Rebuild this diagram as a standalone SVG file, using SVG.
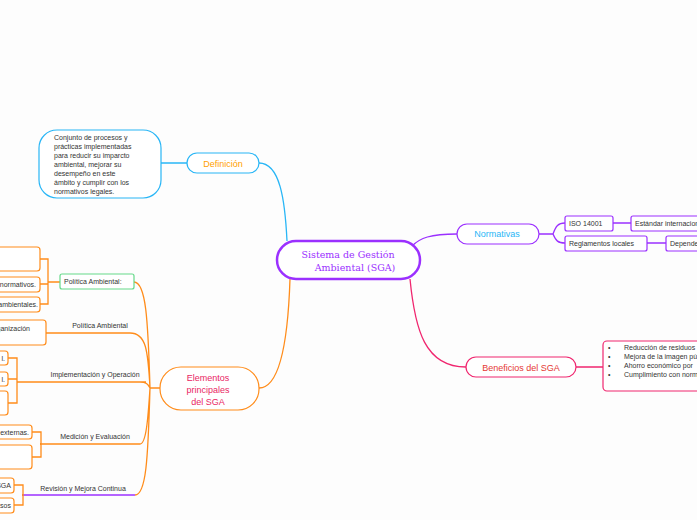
<svg xmlns="http://www.w3.org/2000/svg" width="697" height="520" viewBox="0 0 697 520">
<style>
text{font-family:"Liberation Sans",Arial,sans-serif;font-size:7px;fill:#333}
.b{fill:#fff;stroke-width:1.2}
.o{stroke:#ff8c1a}.p{stroke:#9b30ff}.c{stroke:#29b6f6}.k{stroke:#f0266f}
.l{fill:none;stroke-width:1.3}
.m{text-anchor:middle}
</style>
<rect width="697" height="520" fill="#fdfdfd"/>
<g id="connectors">
<path class="l c" d="M287,241 C285,200 280,163 259,163 M161,163 H187" stroke-width="1.6"/>
<path class="l p" d="M412,246 C420,238 430,234 457,234 M539,234 H553 M553,234 C556,226 558,223 565,223 M553,234 C556,241 558,243 565,243 M613,223 H631 M647,243 H666" stroke-width="1.6"/>
<path class="l k" d="M410,279 C415,330 425,367 466,367 M576,367 H603" stroke-width="1.6"/>
<path class="l o" d="M290,279 C288,340 280,388 259,388 M160,388 H150" stroke-width="1.6"/>
<path class="l o" d="M150,388 C148,320 146,282 134,282 M150,388 C148,350 146,333 130,333 M46,333 H130 M150,388 C148,384 146,382 140,382 M27,382 H146 M150,388 C148,420 146,444 140,444 M40,444 H140 M150,388 C148,460 146,495 135,495"/>
<path class="l" stroke="#9b30ff" d="M22,495 H135"/>
<path class="l o" d="M40,259 H48 V304 H40 M48,282 H60 M40,284 H48 M8,358 H17 V403 H8 M8,379 H17 M17,382 H27 M32,432 H41 V457 H32 M41,444 H40 M14,485 H23 V505 H14 M23,495 H22"/>
</g>
<g id="central"><rect x="277" y="241" width="143" height="38" rx="19" fill="#fff" stroke="#9b30ff" stroke-width="2.5"/>
<text x="348" y="258" class="m" style="font-family:'DejaVu Serif',serif;font-size:9.5px;fill:#9b30ff">Sistema de Gestión</text>
<text x="355" y="271" class="m" style="font-family:'DejaVu Serif',serif;font-size:9.5px;fill:#9b30ff">Ambiental (SGA)</text></g>
<g id="definicion"><rect class="b c" x="187" y="153" width="72" height="20" rx="10"/><text x="223" y="167" class="m" style="font-size:9px;fill:#ffa000">Definición</text></g>
<g id="def-text"><rect class="b c" x="39" y="130" width="122" height="68" rx="18"/>
<text x="54" y="140">Conjunto de procesos y</text><text x="54" y="149">prácticas implementadas</text><text x="54" y="158">para reducir su imparcto</text><text x="54" y="167">ambiental, mejorar su</text><text x="54" y="176">desempeño en este</text><text x="54" y="185">ámbito y cumplir con los</text><text x="54" y="194">normativos legales.</text></g>
<g id="normativas"><rect class="b p" x="457" y="224" width="82" height="20" rx="10"/><text x="497" y="237" class="m" style="font-size:9px;fill:#29b6f6">Normativas</text></g>
<g id="iso"><rect class="b p" x="565" y="216" width="48" height="15" rx="2"/><text x="569" y="226">ISO 14001</text></g>
<g id="estandar"><rect class="b p" x="631" y="216" width="90" height="15" rx="2"/><text x="635" y="226">Estándar internacional</text></g>
<g id="reglamentos"><rect class="b p" x="565" y="236" width="82" height="15" rx="2"/><text x="569" y="246">Reglamentos locales</text></g>
<g id="depende"><rect class="b p" x="666" y="236" width="60" height="15" rx="2"/><text x="670" y="246">Dependen</text></g>
<g id="beneficios"><rect class="b k" x="466" y="357" width="110" height="20" rx="10"/><text x="521" y="371" class="m" style="font-size:9px;fill:#e53935">Beneficios del SGA</text></g>
<g id="beneficios-list"><rect class="b k" x="603" y="341" width="120" height="50" rx="4"/>
<text x="608" y="350">•</text><text x="624" y="350">Reducción de residuos</text>
<text x="608" y="359">•</text><text x="624" y="359">Mejora de la imagen pública</text>
<text x="608" y="368">•</text><text x="624" y="368">Ahorro económico por</text>
<text x="608" y="377">•</text><text x="624" y="377">Cumplimiento con normas</text></g>
<g id="elementos"><rect class="b o" x="160" y="367" width="99" height="43" rx="21" stroke-width="1.6"/>
<text x="208" y="381" class="m" style="font-size:9px;fill:#e91e63">Elementos</text><text x="208" y="393" class="m" style="font-size:9px;fill:#e91e63">principales</text><text x="208" y="405" class="m" style="font-size:9px;fill:#e91e63">del SGA</text></g>
<g id="politica1"><rect class="b" stroke="#66d98a" x="60" y="274" width="74" height="15" rx="2"/><text x="64" y="284">Política Ambiental:</text></g>
<g id="pol-items"><rect class="b o" x="-10" y="247" width="50" height="24" rx="3"/>
<rect class="b o" x="-10" y="277" width="50" height="15" rx="3"/><text x="36" y="287" text-anchor="end">normativos.</text>
<rect class="b o" x="-10" y="297" width="50" height="15" rx="3"/><text x="38" y="307" text-anchor="end">ambientales.</text></g>
<g id="politica2"><text x="100" y="328" class="m">Política Ambiental</text>
<rect class="b o" x="-10" y="320" width="56" height="25" rx="3"/><text x="30" y="331" text-anchor="end">organización</text></g>
<g id="implementacion"><text x="95" y="377" class="m">Implementación y Operación</text>
<rect class="b o" x="-10" y="351" width="18" height="14" rx="3"/><text x="5" y="361" text-anchor="end">l.</text>
<rect class="b o" x="-10" y="372" width="18" height="14" rx="3"/><text x="5" y="382" text-anchor="end">l.</text>
<rect class="b o" x="-10" y="391" width="18" height="24" rx="3"/></g>
<g id="medicion"><text x="95" y="439" class="m">Medición y Evaluación</text>
<rect class="b o" x="-10" y="425" width="42" height="14" rx="3"/><text x="29" y="435" text-anchor="end">externas.</text>
<rect class="b o" x="-10" y="445" width="42" height="24" rx="3"/></g>
<g id="revision"><text x="83" y="491" class="m">Revisión y Mejora Continua</text>
<rect class="b o" x="-10" y="478" width="24" height="15" rx="3"/><text x="11" y="488" text-anchor="end">SGA</text>
<rect class="b o" x="-10" y="498" width="24" height="15" rx="3"/><text x="11" y="508" text-anchor="end">sos</text></g>
</svg>
